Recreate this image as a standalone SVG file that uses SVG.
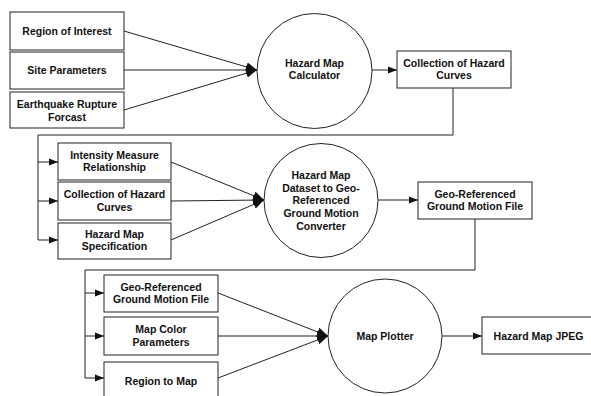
<svg xmlns="http://www.w3.org/2000/svg" width="591" height="396" viewBox="0 0 591 396">
<style>
  .box { fill: #fff; stroke: #222; stroke-width: 1; }
  .proc { fill: #fff; stroke: #222; stroke-width: 1; }
  .t { font-family: "Liberation Sans", Arial, sans-serif; font-size: 10.5px; font-weight: bold; fill: #111; text-anchor: middle; }
  .c { fill: none; stroke: #222; stroke-width: 1; }
  .a { marker-end: url(#arrow); }
  .ab { marker-end: url(#arrowbig); }
</style>
<defs>
  <marker id="arrow" markerUnits="userSpaceOnUse" markerWidth="10" markerHeight="8" refX="9" refY="4" orient="auto">
    <path d="M0,0.5 L9,4 L0,7.5 z" fill="#111"/>
  </marker>
  <marker id="arrowbig" markerUnits="userSpaceOnUse" markerWidth="12" markerHeight="10" refX="11" refY="5" orient="auto">
    <path d="M0,0.5 L11,5 L0,9.5 z" fill="#111"/>
  </marker>
</defs>
<rect width="591" height="396" fill="#fff"/>

<g id="connectors">
  <line class="c ab" x1="124" y1="31" x2="257" y2="70"/>
  <line class="c ab" x1="124" y1="70" x2="257" y2="70"/>
  <line class="c ab" x1="124" y1="110" x2="257" y2="70"/>
  <line class="c a" x1="372" y1="70" x2="397" y2="70"/>
  <polyline class="c" points="453,88 453,135 38,135 38,240"/>
  <line class="c a" x1="38" y1="162" x2="58" y2="162"/>
  <line class="c a" x1="38" y1="201" x2="58" y2="201"/>
  <line class="c a" x1="38" y1="240" x2="58" y2="240"/>
  <line class="c ab" x1="171" y1="162" x2="264" y2="200"/>
  <line class="c ab" x1="171" y1="201" x2="264" y2="200"/>
  <line class="c ab" x1="171" y1="240" x2="264" y2="200"/>
  <line class="c a" x1="378" y1="200" x2="418" y2="200"/>
  <polyline class="c" points="475,219 475,270 85,270 85,378"/>
  <line class="c a" x1="85" y1="293" x2="104" y2="293"/>
  <line class="c a" x1="85" y1="336" x2="104" y2="336"/>
  <line class="c a" x1="85" y1="378" x2="104" y2="378"/>
  <line class="c ab" x1="218" y1="293" x2="328" y2="336"/>
  <line class="c ab" x1="218" y1="336" x2="328" y2="336"/>
  <line class="c ab" x1="218" y1="378" x2="328" y2="336"/>
  <line class="c a" x1="442" y1="336" x2="482" y2="336"/>
</g>

<g id="region-of-interest">
  <rect class="box" x="10" y="12" width="114" height="38"/>
  <text class="t" x="67" y="34.5">Region of Interest</text>
</g>
<g id="site-parameters">
  <rect class="box" x="10" y="52" width="114" height="37"/>
  <text class="t" x="67" y="74">Site Parameters</text>
</g>
<g id="earthquake-rupture-forcast">
  <rect class="box" x="10" y="92" width="114" height="36"/>
  <text class="t" x="67" y="107.5">Earthquake Rupture</text>
  <text class="t" x="67" y="120.5">Forcast</text>
</g>
<g id="hazard-map-calculator">
  <circle class="proc" cx="314.5" cy="71" r="57.5"/>
  <text class="t" x="314.5" y="66.5">Hazard Map</text>
  <text class="t" x="314.5" y="79">Calculator</text>
</g>
<g id="collection-hazard-curves-1">
  <rect class="box" x="397" y="51" width="114" height="37"/>
  <text class="t" x="454" y="66.5">Collection of Hazard</text>
  <text class="t" x="454" y="79">Curves</text>
</g>

<g id="intensity-measure-relationship">
  <rect class="box" x="58" y="143" width="113" height="37"/>
  <text class="t" x="114.5" y="158.5">Intensity Measure</text>
  <text class="t" x="114.5" y="171">Relationship</text>
</g>
<g id="collection-hazard-curves-2">
  <rect class="box" x="58" y="182" width="113" height="38"/>
  <text class="t" x="114.5" y="198">Collection of Hazard</text>
  <text class="t" x="114.5" y="210.5">Curves</text>
</g>
<g id="hazard-map-specification">
  <rect class="box" x="58" y="223" width="113" height="36"/>
  <text class="t" x="114.5" y="237.5">Hazard Map</text>
  <text class="t" x="114.5" y="250">Specification</text>
</g>
<g id="dataset-converter">
  <circle class="proc" cx="321" cy="200.5" r="57"/>
  <text class="t" x="321" y="178.8">Hazard Map</text>
  <text class="t" x="321" y="191.6">Dataset to Geo-</text>
  <text class="t" x="321" y="204.4">Referenced</text>
  <text class="t" x="321" y="217.2">Ground Motion</text>
  <text class="t" x="321" y="230">Converter</text>
</g>
<g id="geo-ground-motion-file-1">
  <rect class="box" x="418" y="182" width="114" height="37"/>
  <text class="t" x="475" y="197.5">Geo-Referenced</text>
  <text class="t" x="475" y="210">Ground Motion File</text>
</g>

<g id="geo-ground-motion-file-2">
  <rect class="box" x="104" y="275" width="114" height="37"/>
  <text class="t" x="161" y="290.5">Geo-Referenced</text>
  <text class="t" x="161" y="303">Ground Motion File</text>
</g>
<g id="map-color-parameters">
  <rect class="box" x="104" y="317" width="114" height="38"/>
  <text class="t" x="161" y="333">Map Color</text>
  <text class="t" x="161" y="345.5">Parameters</text>
</g>
<g id="region-to-map">
  <rect class="box" x="104" y="362" width="114" height="38"/>
  <text class="t" x="161" y="385">Region to Map</text>
</g>
<g id="map-plotter">
  <circle class="proc" cx="385" cy="336" r="57"/>
  <text class="t" x="385" y="339.5">Map Plotter</text>
</g>
<g id="hazard-map-jpeg">
  <rect class="box" x="482" y="317" width="114" height="37"/>
  <text class="t" x="538.5" y="339.5">Hazard Map JPEG</text>
</g>
</svg>
